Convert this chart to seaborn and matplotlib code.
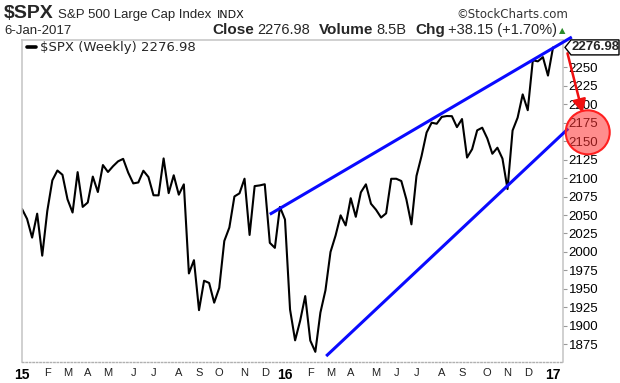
import matplotlib
matplotlib.use('Agg')
import matplotlib.pyplot as plt
import matplotlib.dates as mdates
import matplotlib.patches as mpatches
import matplotlib.transforms as mtransforms
from matplotlib.lines import Line2D
import numpy as np
import pandas as pd
import seaborn as sns

# ---------------- data ----------------
first_week = '2015-01-02'
weekly_close = [
    2058.20, 2044.81, 2019.42, 2051.82, 1994.99, 2055.47, 2096.99, 2110.30, 2104.50,
    2071.26, 2053.40, 2108.10, 2061.02, 2066.96, 2102.06, 2081.18, 2117.69, 2108.29,
    2116.10, 2122.73, 2126.06, 2107.39, 2092.83, 2094.11, 2109.99, 2101.49, 2076.78,
    2076.62, 2126.64, 2079.65, 2103.84, 2077.57, 2091.54, 1970.89, 1988.87, 1921.22,
    1961.05, 1958.03, 1931.34, 1951.36, 2014.89, 2033.11, 2075.15, 2079.36, 2099.20,
    2023.04, 2089.17, 2090.11, 2091.69, 2012.37, 2005.55, 2060.99, 2043.94,
    1922.03, 1880.33, 1906.90, 1940.24, 1880.05, 1864.78, 1917.78, 1948.05, 1999.99,
    2022.19, 2049.58, 2035.94, 2072.78, 2047.60, 2080.73, 2091.58, 2065.30, 2057.14,
    2046.61, 2052.32, 2099.06, 2099.13, 2096.07, 2071.22, 2037.41, 2102.95, 2129.90,
    2161.74, 2175.03, 2173.60, 2182.87, 2184.05, 2183.87, 2169.04, 2179.98, 2127.81,
    2139.16, 2164.69, 2168.27, 2153.74, 2132.98, 2141.16, 2126.41, 2085.18, 2164.45,
    2181.90, 2213.35, 2191.95, 2259.53, 2258.07, 2263.79, 2238.83,
    2276.98,
]
month_labels = ['15', 'F', 'M', 'A', 'M', 'J', 'J', 'A', 'S', 'O', 'N', 'D',
                '16', 'F', 'M', 'A', 'M', 'J', 'J', 'A', 'S', 'O', 'N', 'D', '17']
year_labels = ['15', '16', '17']
y_ticks = [1875, 1900, 1925, 1950, 1975, 2000, 2025, 2050, 2075, 2100,
           2125, 2150, 2175, 2200, 2225, 2250]
x_range = ['2015-01-06 19:00', '2017-01-19 19:00']
y_range = [1851, 2287]

upper_dates = ['2015-12-11', '2017-02-01']
upper_vals = [2051, 2291]
lower_dates = ['2016-02-27', '2017-01-27']
lower_vals = [1859, 2167]
arrow_dates = ['2017-01-26', '2017-02-16']
arrow_vals = [2269, 2188]
circle_date = '2017-02-23'
circle_val = 2162
last_close = 2276.98

title_sym = '$SPX'
title_name = 'S&P 500 Large Cap Index'
title_exch = 'INDX'
credit = '\u00a9StockCharts.com'
date_text = '6-Jan-2017'
stats = [('Close', '2276.98'), ('Volume', '8.5B'), ('Chg', '+38.15 (+1.70%)')]
legend_text = '$SPX (Weekly) 2276.98'

# ---------------- style ----------------
sns.set_style('white')
plt.rcParams['font.family'] = ['Liberation Sans', 'DejaVu Sans']

W, H = 620, 383
fig = plt.figure(figsize=(W / 100, H / 100), dpi=100)
ax = fig.add_axes([22 / W, 1 - 362 / H, 541 / W, 322 / H])

dates = pd.date_range(first_week, periods=len(weekly_close), freq='7D')
df = pd.DataFrame({'date': dates, 'close': weekly_close})
sns.lineplot(data=df, x='date', y='close', ax=ax, color='black', lw=1.5)

ax.set_xlim(pd.Timestamp(x_range[0]), pd.Timestamp(x_range[1]))
ax.set_ylim(*y_range)
ax.set_xlabel('')
ax.set_ylabel('')

# trend lines
ax.plot(pd.to_datetime(upper_dates), upper_vals, color='#0a0aff', lw=2.2,
        clip_on=False, solid_capstyle='butt', zorder=3)
ax.plot(pd.to_datetime(lower_dates), lower_vals, color='#0a0aff', lw=2.2,
        clip_on=False, solid_capstyle='butt', zorder=3)

# y axis on the right
ax.yaxis.tick_right()
ax.set_yticks(y_ticks)
ax.set_yticklabels([str(v) for v in y_ticks])
ax.tick_params(axis='y', which='major', length=3, width=0.8, color='#999999',
               pad=1, labelsize=9.5, labelcolor='black', direction='out')

# x axis month labels at first weekly bar of each month
month_first = df.groupby(df['date'].dt.to_period('M'))['date'].first().tolist()
ax.set_xticks(month_first)
ax.set_xticklabels(month_labels)
ax.tick_params(axis='x', which='major', length=0, pad=4)
for lab in ax.get_xticklabels():
    if lab.get_text() in year_labels:
        lab.set_fontweight('bold')
        lab.set_fontsize(10)
        lab.set_color('black')
    else:
        lab.set_fontsize(8)
        lab.set_color('#222222')

for side in ['left', 'right', 'top']:
    ax.spines[side].set_color('#c4c4c4')
    ax.spines[side].set_linewidth(1.1)
ax.spines['bottom'].set_color('#b0b0b0')
ax.spines['bottom'].set_linewidth(1.0)
ax.spines['bottom'].set_linestyle((0, (1, 1.5)))
ax.grid(False)

# red arrow
ax.annotate('', xy=(pd.Timestamp(arrow_dates[1]), arrow_vals[1]),
            xytext=(pd.Timestamp(arrow_dates[0]), arrow_vals[0]),
            xycoords='data', textcoords='data', annotation_clip=False,
            arrowprops=dict(arrowstyle='-|>', color='#f01010', lw=1.8,
                            mutation_scale=20, shrinkA=0, shrinkB=0))

fig.canvas.draw()
ident = mtransforms.IdentityTransform()

# red circle
cx, cy = ax.transData.transform((mdates.date2num(pd.Timestamp(circle_date)), circle_val))
fig.add_artist(mpatches.Circle((cx, cy), 22, transform=ident,
                               facecolor='#ff3030', alpha=0.55, edgecolor='none', zorder=5))
fig.add_artist(mpatches.Circle((cx, cy), 22, transform=ident,
                               facecolor='none', edgecolor='#ff2020', lw=1.5, zorder=6))

# price tag at last close
_, ty = ax.transData.transform((mdates.date2num(dates[-1]), last_close))
x0 = 563 + 2
tag = [(x0, ty), (x0 + 6, ty + 7.5), (619, ty + 7.5), (619, ty - 7.5), (x0 + 6, ty - 7.5)]
fig.add_artist(mpatches.Polygon(tag, closed=True, transform=ident,
                                facecolor='white', edgecolor='black', lw=1.0, zorder=7))
fig.text((x0 + 6.5) / W, ty / H, f'{last_close:.2f}', fontsize=9.5, fontweight='bold',
         va='center', ha='left', zorder=8)

# header texts
def px(x, y):
    return x / W, 1 - y / H

r = fig.canvas.get_renderer()
t = fig.text(*px(4, 18), title_sym, fontsize=14, fontweight='bold', va='baseline')
bb = t.get_window_extent(r)
t2 = fig.text((bb.x1 + 4) / W, 1 - 18 / H, title_name, fontsize=9.5, va='baseline')
bb2 = t2.get_window_extent(r)
fig.text((bb2.x1 + 6) / W, 1 - 18 / H, title_exch, family=['DejaVu Sans'],
         fontsize=8, va='baseline', color='#111111')
fig.text(*px(568, 18), credit, family=['DejaVu Sans'], fontsize=8.5, va='baseline',
         ha='right', color='#333333')
fig.text(*px(4, 34), date_text, fontsize=9.5, va='baseline')

cur = 203
stat_texts = []
for lbl, val in stats:
    tl = fig.text(cur / W, 1 - 34 / H, lbl, fontsize=11, fontweight='bold', va='baseline')
    cur = tl.get_window_extent(r).x1 + 3
    tv = fig.text(cur / W, 1 - 34 / H, val, fontsize=10.5, va='baseline')
    cur = tv.get_window_extent(r).x1 + 9
    stat_texts += [tl, tv]
shift = (557 - (cur - 9)) / W
for tt in stat_texts:
    xx, yy = tt.get_position()
    tt.set_position((xx + shift, yy))
fig.text(559 / W, 1 - 33 / H, '\u25b2', family=['DejaVu Sans'], fontsize=6,
         va='baseline', color='#2a8a2a')

# legend
fig.add_artist(Line2D([27 / W, 36 / W], [1 - 47 / H, 1 - 47 / H], color='black', lw=2.6,
                      transform=fig.transFigure))
fig.text(*px(40, 51), legend_text, family=['DejaVu Sans'], fontsize=9.5, va='baseline')

fig.savefig('out.png', dpi=100)
